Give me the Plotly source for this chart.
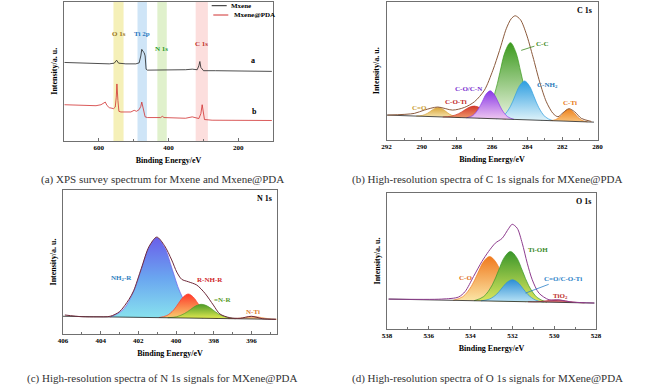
import plotly.graph_objects as go

FONT = "Liberation Serif"

# ---------------- (a) XPS survey ----------------
survey_names = ["Mxene", "Mxene@PDA"]
survey_colors = ["#222222", "#d03030"]
mxene_be = [698.6, 665.2, 617.6, 570.0, 555.7, 549.0, 543.3, 522.4, 493.8, 484.3, 479.5, 476.7,
            472.9, 470.0, 467.1, 464.3, 460.5, 408.1, 351.0, 331.9, 317.6, 312.9, 310.0, 307.1,
            303.3, 299.5, 265.2, 103.3]
mxene_int = [56.3, 56.0, 55.6, 55.3, 55.8, 57.9, 55.8, 55.3, 55.3, 56.0, 61.0, 65.7,
             64.1, 63.4, 61.0, 51.5, 50.8, 50.8, 51.1, 51.5, 51.1, 53.9, 57.0, 52.7,
             51.5, 50.4, 50.4, 49.9]
pda_be = [698.6, 646.2, 608.1, 593.8, 581.4, 576.7, 570.0, 557.6, 552.9, 550.0, 548.1, 545.2,
          542.4, 536.7, 508.1, 498.6, 491.9, 484.3, 479.5, 476.7, 472.9, 470.0, 467.1, 460.5,
          422.4, 417.6, 412.9, 351.0, 331.9, 312.9, 307.1, 303.3, 300.5, 296.7, 274.8, 103.3]
pda_int = [26.0, 25.8, 25.3, 26.0, 27.9, 25.5, 23.9, 23.2, 24.3, 31.4, 40.9, 29.1,
           21.3, 20.8, 20.8, 22.0, 21.3, 22.5, 24.8, 27.9, 24.3, 22.0, 17.3, 16.8,
           16.8, 17.7, 16.8, 16.3, 17.3, 16.1, 19.6, 26.0, 19.6, 15.4, 14.9, 14.7]
band_labels = ["O 1s", "Ti 2p", "N 1s", "C 1s"]
band_lo = [529, 462, 405, 287]
band_hi = [558, 489, 432, 322]
band_fill = ["#f5f0b8", "#cfe5f7", "#e0f1cc", "#fcdedd"]
band_text_color = ["#9a7418", "#2a78c0", "#2a9a2a", "#c0302a"]
band_label_x = [543, 477, 419, 304]
band_label_y = [76.4, 76.6, 66.2, 69.5]
curve_tags = ["a", "b"]
curve_tag_x = [156, 154]
curve_tag_y = [57.4, 21.3]

# ---------------- (b) C 1s ----------------
c1s_names = ["C=O", "C-O-Ti", "C-C", "C-NH<sub>2</sub>", "C-O/C-N", "C-Ti"]
c1s_x = [
    [290.31, 289.97, 289.68, 289.47, 289.26, 289.05, 288.84, 288.63, 288.42, 288.13, 287.79],
    [288.8, 288.32, 287.9, 287.6, 287.3, 287.0, 286.7, 286.4, 286.1, 285.68, 285.2],
    [286.75, 286.27, 285.85, 285.55, 285.25, 284.95, 284.65, 284.35, 284.05, 283.63, 283.15],
    [285.77, 285.34, 284.96, 284.69, 284.42, 284.15, 283.88, 283.61, 283.34, 282.96, 282.53],
    [287.45, 287.09, 286.78, 286.55, 286.33, 286.1, 285.88, 285.65, 285.43, 285.11, 284.75],
    [282.67, 282.39, 282.15, 281.97, 281.80, 281.62, 281.45, 281.27, 281.10, 280.85, 280.57],
]
c1s_y = [
    [17.3, 17.7, 19.2, 21.0, 22.8, 23.5, 22.6, 20.7, 18.7, 17.0, 16.2],
    [16.6, 17.2, 19.0, 21.3, 23.6, 24.5, 23.3, 20.8, 18.3, 16.1, 15.1],
    [15.7, 20.5, 33.3, 48.8, 63.9, 70.3, 63.6, 48.3, 32.6, 19.3, 14.2],
    [15.3, 17.6, 24.1, 31.9, 39.4, 42.6, 39.2, 31.4, 23.4, 16.6, 13.9],
    [16.0, 17.7, 22.3, 27.8, 33.2, 35.5, 33.0, 27.4, 21.7, 16.8, 14.9],
    [14.0, 14.7, 16.6, 19.0, 21.4, 22.3, 21.2, 18.7, 16.2, 14.0, 13.1],
]
c1s_grad = [["#f7e7b0", "#d9a43a"], ["#f2a070", "#d2382a"], ["#eef6e4", "#3c9a1e"],
            ["#dff3fa", "#2e9ee0"], ["#f0c8f0", "#8a3ae6"], ["#f9c27a", "#ee8420"]]
c1s_text_color = ["#c89a30", "#c0282a", "#3c8a1e", "#2878b8", "#7a2ed0", "#e87a20"]
c1s_label_x = [290.1, 288.05, 283.16, 282.86, 287.34, 281.58]
c1s_label_y = [23.3, 27.6, 69.5, 39.6, 36.5, 26.4]
c1s_env_x = [291.94, 290.42, 289.85, 289.09, 288.24, 287.57, 287.0, 286.43, 285.95, 285.57, 285.19,
             284.91, 284.68, 284.38, 284.05, 283.67, 283.29, 282.91, 282.53, 282.25, 281.96,
             281.62, 281.30, 280.92, 280.35]
c1s_env_y = [18.0, 19.2, 21.6, 23.8, 21.6, 23.5, 27.6, 36.0, 50.4, 64.7, 80.3,
             87.5, 89.7, 86.8, 76.7, 60.0, 42.0, 27.6, 19.2, 16.8, 19.7,
             22.6, 20.4, 15.6, 13.4]
c1s_base_x = [292.0, 280.2]
c1s_base_y = [18.0, 12.9]

# ---------------- (c) N 1s ----------------
n1s_names = ["NH<sub>2</sub>-R", "R-NH-R", "=N-R", "N-Ti"]
n1s_x = [
    [403.48, 402.82, 402.25, 401.84, 401.43, 401.02, 400.61, 400.20, 399.79, 399.22, 398.56],
    [400.91, 400.49, 400.13, 399.87, 399.61, 399.35, 399.09, 398.83, 398.57, 398.21, 397.79],
    [400.44, 399.96, 399.54, 399.24, 398.94, 398.64, 398.34, 398.04, 397.74, 397.32, 396.84],
    [397.25, 396.89, 396.58, 396.35, 396.13, 395.9, 395.68, 395.45, 395.23, 394.91, 394.55],
]
n1s_y = [
    [11.8, 16.7, 29.6, 45.2, 60.4, 66.9, 60.3, 44.9, 29.2, 16.0, 10.9],
    [11.4, 12.8, 16.6, 21.3, 25.8, 27.8, 25.7, 21.1, 16.4, 12.3, 10.8],
    [11.3, 12.0, 14.3, 16.9, 19.6, 20.6, 19.4, 16.7, 13.9, 11.6, 10.6],
    [10.7, 10.8, 11.1, 11.5, 12.0, 12.1, 11.9, 11.4, 10.9, 10.4, 10.2],
]
n1s_grad = [[[0, "#88e2ee"], [0.5, "#6aa6f0"], [1, "#6a5fea"]],
            [[0, "#f7d070"], [1, "#ff3a2a"]],
            [[0, "#e2ea50"], [1, "#4e9a28"]],
            [[0, "#f8d0a0"], [1, "#f0a060"]]]
n1s_text_color = ["#2e7ec0", "#d0282a", "#5a9a2a", "#e08030"]
n1s_label_x = [402.92, 398.2, 397.53, 395.91]
n1s_label_y = [38.7, 37.5, 23.6, 15.0]
n1s_env_x = [405.9, 405.0, 404.2, 403.5, 403.0, 402.5, 402.25, 401.84, 401.43, 401.02, 400.61,
             400.23, 399.96, 399.7, 399.35, 398.9, 398.46, 398.02, 397.67, 397.14, 396.6, 396.0,
             395.4, 394.7]
n1s_env_y = [13.2, 12.0, 11.9, 12.3, 15.5, 24.0, 30.0, 45.6, 60.8, 67.3, 61.3,
             51.4, 43.0, 38.0, 36.3, 34.0, 28.2, 20.1, 13.9, 11.3, 10.9, 12.3,
             10.6, 10.2]
n1s_base_x = [406.0, 394.7]
n1s_base_y = [12.3, 10.2]

# ---------------- (d) O 1s ----------------
o1s_names = ["C-O", "Ti-OH", "C=O/C-O-Ti", "TiO<sub>2</sub>"]
o1s_x = [
    [534.83, 534.37, 533.96, 533.67, 533.38, 533.09, 532.80, 532.51, 532.22, 531.81, 531.35],
    [533.83, 533.37, 532.96, 532.67, 532.38, 532.09, 531.80, 531.51, 531.22, 530.81, 530.35],
    [533.5, 533.1, 532.75, 532.5, 532.25, 532.0, 531.75, 531.5, 531.25, 530.9, 530.5],
    [531.25, 530.89, 530.58, 530.35, 530.13, 529.9, 529.68, 529.45, 529.23, 528.91, 528.55],
]
o1s_y = [
    [21.1, 23.8, 31.5, 40.6, 49.6, 53.3, 49.4, 40.3, 30.9, 23.1, 20.0],
    [20.8, 23.9, 32.5, 42.8, 52.8, 57.0, 52.6, 42.4, 31.9, 23.1, 19.7],
    [20.7, 22.0, 25.6, 30.1, 34.4, 36.2, 34.3, 29.8, 25.2, 21.3, 19.8],
    [20.0, 20.0, 20.4, 20.8, 21.2, 21.4, 21.1, 20.5, 20.0, 19.5, 19.2],
]
o1s_grad = [[[0, "#fbe7a8"], [1, "#f07a1e"]],
            [[0, "#dde860"], [1, "#3a962a"]],
            [[0, "#b9e3f5"], [1, "#2d8fd6"]],
            [[0, "#e8a0a0"], [1, "#c0303a"]]]
o1s_text_color = ["#e07020", "#3a8a2a", "#2a80c8", "#c0302a"]
o1s_label_x = [534.25, 530.79, 529.57, 529.69]
o1s_label_y = [37.4, 58.2, 36.9, 24.4]
o1s_env_x = [537.92, 535.38, 534.58, 534.26, 533.86, 533.46, 533.14, 532.82, 532.49, 532.17,
             532.01, 531.77, 531.53, 531.29, 531.05, 530.73, 530.25, 529.77, 529.12, 528.08]
o1s_env_y = [22.0, 22.0, 23.5, 27.6, 38.6, 49.6, 57.0, 63.1, 66.7, 74.1,
             77.0, 74.1, 63.1, 48.4, 36.2, 26.4, 21.5, 21.4, 19.8, 19.1]
o1s_base_x = [537.92, 528.08]
o1s_base_y = [22.0, 19.07]

panel_titles = ["C 1s", "N 1s", "O 1s"]
captions = ["(a) XPS survey spectrum for Mxene and Mxene@PDA",
            "(b) High-resolution spectra of C 1s signals for MXene@PDA",
            "(c) High-resolution spectra of N 1s signals for MXene@PDA",
            "(d) High-resolution spectra of O 1s signals for MXene@PDA"]

fig = go.Figure()

# survey
for xs, ys, nm, col in [(mxene_be, mxene_int, survey_names[0], survey_colors[0]),
                        (pda_be, pda_int, survey_names[1], survey_colors[1])]:
    fig.add_trace(go.Scatter(x=xs, y=ys, name=nm, mode="lines", showlegend=False,
                             line=dict(color=col, width=0.8), xaxis="x", yaxis="y"))

annotations = []
shapes = []
for lo, hi, fc in zip(band_lo, band_hi, band_fill):
    shapes.append(dict(type="rect", xref="x", yref="y domain", x0=lo, x1=hi, y0=0, y1=1,
                       fillcolor=fc, line=dict(width=0), layer="below"))
for t, x, y, c in zip(band_labels, band_label_x, band_label_y, band_text_color):
    annotations.append(dict(text=f"<b>{t}</b>", x=x, y=y, xref="x", yref="y", showarrow=False,
                            xanchor="center", yanchor="middle",
                            font=dict(family=FONT, size=7, color=c)))
for t, x, y in zip(curve_tags, curve_tag_x, curve_tag_y):
    annotations.append(dict(text=f"<b>{t}</b>", x=x, y=y, xref="x", yref="y", showarrow=False,
                            xanchor="center", yanchor="middle",
                            font=dict(family=FONT, size=8, color="black")))
# legend for (a)
leg_rows = [(5.7, 211.7, 226.7, 229.0), (15.0, 213.3, 228.3, 231.7)]
for (py, lx0, lx1, tx), nm, col in zip(leg_rows, survey_names, survey_colors):
    shapes.append(dict(type="line", xref="paper", yref="paper", x0=lx0 / 650, x1=lx1 / 650,
                       y0=1 - py / 387, y1=1 - py / 387, line=dict(color=col, width=1)))
    annotations.append(dict(text=f"<b>{nm}</b>", x=tx / 650, y=1 - py / 387, xref="paper",
                            yref="paper", xanchor="left", yanchor="middle", showarrow=False,
                            font=dict(family=FONT, size=7, color="black")))


def add_components(xs_list, ys_list, grads, xa, ya, names):
    for xs, ys, g, nm in zip(xs_list, ys_list, grads, names):
        if isinstance(g[0], str):
            cs = [[0, g[0]], [1, g[1]]]
        else:
            cs = g
        fig.add_trace(go.Scatter(x=xs, y=ys, name=nm, mode="lines", showlegend=False,
                                 line=dict(color=cs[-1][1], width=0.7, shape="spline", smoothing=1),
                                 fill="toself", fillgradient=dict(type="vertical", colorscale=cs),
                                 xaxis=xa, yaxis=ya))


def add_env(bx, by, ex, ey, col, xa, ya):
    fig.add_trace(go.Scatter(x=bx, y=by, mode="lines", showlegend=False,
                             line=dict(color="#222222", width=0.8), xaxis=xa, yaxis=ya))
    fig.add_trace(go.Scatter(x=ex, y=ey, mode="lines", showlegend=False,
                             line=dict(color=col, width=1, shape="spline", smoothing=0.8),
                             xaxis=xa, yaxis=ya))


add_components(c1s_x, c1s_y, c1s_grad, "x2", "y2", c1s_names)
add_env(c1s_base_x, c1s_base_y, c1s_env_x, c1s_env_y, "#8b5a3c", "x2", "y2")
add_components(n1s_x, n1s_y, n1s_grad, "x3", "y3", n1s_names)
add_env(n1s_base_x, n1s_base_y, n1s_env_x, n1s_env_y, "#6e2a3a", "x3", "y3")
add_components(o1s_x, o1s_y, o1s_grad, "x4", "y4", o1s_names)
add_env(o1s_base_x, o1s_base_y, o1s_env_x, o1s_env_y, "#8e3c8e", "x4", "y4")

# component labels
leaders = {"C-C": (284.34, 64.7), "C=O/C-O-Ti": (531.37, 26.4)}
for names, lx, ly, cols, xr, yr in [
        (c1s_names, c1s_label_x, c1s_label_y, c1s_text_color, "x2", "y2"),
        (n1s_names, n1s_label_x, n1s_label_y, n1s_text_color, "x3", "y3"),
        (o1s_names, o1s_label_x, o1s_label_y, o1s_text_color, "x4", "y4")]:
    for nm, x, y, c in zip(names, lx, ly, cols):
        if nm in leaders:
            tx, ty = leaders[nm]
            annotations.append(dict(text=f"<b>{nm}</b>", x=tx, y=ty, ax=x, ay=y, xref=xr, yref=yr,
                                    axref=xr, ayref=yr, showarrow=True, arrowhead=0,
                                    arrowwidth=0.8, arrowcolor=c,
                                    font=dict(family=FONT, size=7, color=c)))
        else:
            annotations.append(dict(text=f"<b>{nm}</b>", x=x, y=y, xref=xr, yref=yr,
                                    xanchor="center", yanchor="middle",
                                    showarrow=False, font=dict(family=FONT, size=7, color=c)))

for t, xr in zip(panel_titles, ["x2", "x3", "x4"]):
    yr = xr.replace("x", "y")
    annotations.append(dict(text=f"<b>{t}</b>", x=0.985, y=0.985, xref=f"{xr} domain",
                            yref=f"{yr} domain", xanchor="right", yanchor="top", showarrow=False,
                            font=dict(family=FONT, size=8, color="black")))

cap_pos = [(162.3, 180.0), (486.7, 180.0), (162.3, 378.3), (487.3, 378.3)]
for cap, (cx, cy) in zip(captions, cap_pos):
    annotations.append(dict(text=cap, x=cx / 650, y=1 - cy / 387, xref="paper", yref="paper",
                            xanchor="center", yanchor="middle",
                            showarrow=False, font=dict(family=FONT, size=11, color="#333333")))

AX = "#707070"


def xax(dom, rng, dt, mdt, anchor):
    return dict(domain=dom, range=rng, anchor=anchor, showline=True, mirror=True, linecolor=AX,
                linewidth=1, ticks="inside", ticklen=3, tickcolor=AX, dtick=dt,
                minor=dict(ticks="inside", ticklen=2, dtick=mdt, tickcolor=AX),
                showgrid=False, zeroline=False, automargin=False,
                tickfont=dict(family=FONT, size=7, color="black", weight="bold"),
                title=dict(text="<b>Binding Energy/eV</b>", standoff=5,
                           font=dict(family=FONT, size=8, color="black")))


def yax(dom, anchor):
    return dict(domain=dom, range=[0, 100], anchor=anchor, showline=True, mirror=True,
                linecolor=AX, linewidth=1, ticks="", showticklabels=False, showgrid=False,
                zeroline=False, automargin=False,
                title=dict(text="<b>Intensity/a. u.</b>", standoff=4,
                           font=dict(family=FONT, size=8, color="black")))


fig.update_layout(
    width=650, height=387, margin=dict(l=0, r=0, t=0, b=0), template="none",
    paper_bgcolor="white", plot_bgcolor="white", showlegend=False,
    xaxis=xax([64 / 650, 273 / 650], [700, 100], 200, 100, "y"),
    yaxis=yax([1 - 141 / 387, 1 - 1.5 / 387], "x"),
    xaxis2=xax([386.5 / 650, 597.5 / 650], [292, 280], 2, 1, "y2"),
    yaxis2=yax([1 - 140 / 387, 1 - 1.5 / 387], "x2"),
    xaxis3=xax([63 / 650, 277 / 650], [406, 394.64], 2, 1, "y3"),
    yaxis3=yax([1 - 334 / 387, 1 - 190 / 387], "x3"),
    xaxis4=xax([387 / 650, 596 / 650], [538, 528], 2, 1, "y4"),
    yaxis4=yax([1 - 329 / 387, 1 - 193 / 387], "x4"),
    annotations=annotations, shapes=shapes,
)

fig.write_html("out.html", config={"displayModeBar": False},
               post_script="document.body.style.margin='0px';document.body.style.padding='0px';")
